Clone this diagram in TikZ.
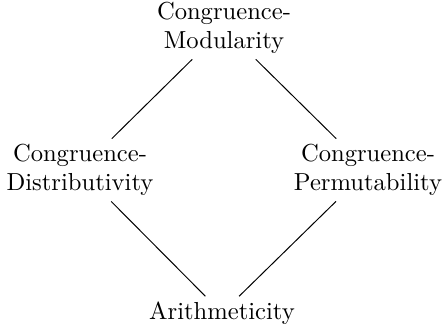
\documentclass[tikz,border=0pt]{standalone}
\begin{document}
\begin{tikzpicture}[x=0.4065pt,y=-0.4065pt,
  lbl/.style={align=center,inner sep=2pt,font=\normalsize},
  edge/.style={draw,line width=0.4pt}]
\useasboundingbox (0,0) rectangle (443,331);
\node[lbl] (cm) at (224,28) {Congruence-\\Modularity};
\node[lbl] (cd) at (80,170) {Congruence-\\Distributivity};
\node[lbl] (cp) at (368,170) {Congruence-\\Permutability};
\node[lbl] (ar) at (222,313) {Arithmeticity};
\draw[edge] (cm) -- (cd);
\draw[edge] (cm) -- (cp);
\draw[edge] (cd) -- (ar);
\draw[edge] (cp) -- (ar);
\end{tikzpicture}
\end{document}
